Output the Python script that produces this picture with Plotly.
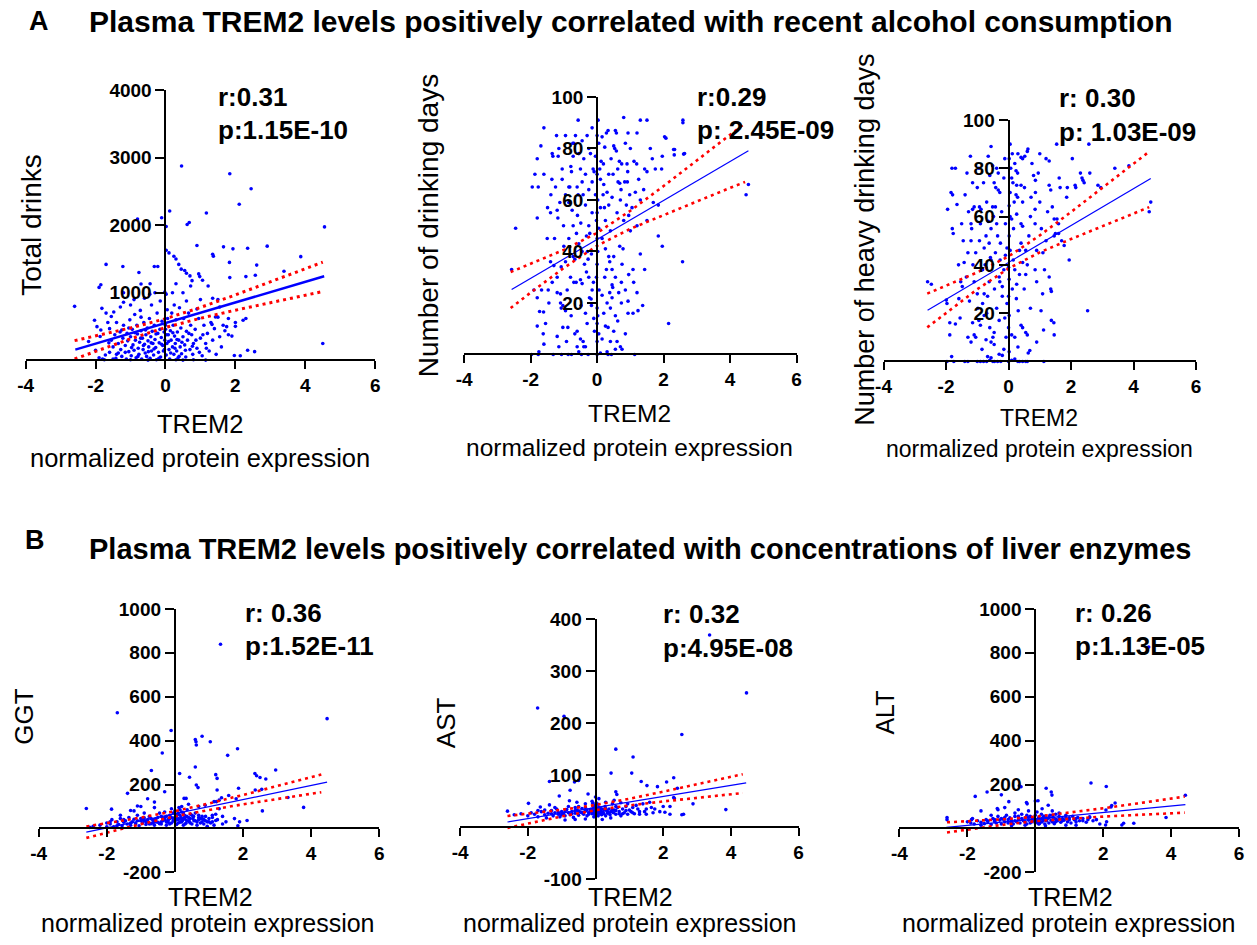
import plotly.graph_objects as go

W, H = 1257, 945
FONT = "Liberation Sans, Arial, Helvetica, sans-serif"

# ---------------- DATA ----------------
title_a = "Plasma TREM2 levels positively correlated with recent alcohol consumption"
title_b = "Plasma TREM2 levels positively correlated with concentrations of liver enzymes"
x_ticks_a = [-4, -2, 0, 2, 4, 6]
x_ticks_b = [-4, -2, 2, 4, 6]

# Panel A1: Total drinks (x = TREM2 NPX, y = total drinks)
drinks_pts = [
    (-2.6, 800), (-1.9, 1080), (-1.85, 1120), (-1.7, 1420), (-1.22, 1390), (-0.76, 1300), (-0.8, 2090),
    (-0.32, 1390), (-0.22, 1390), (-0.44, 1135), (-0.11, 2110), (0.12, 2210), (0.02, 1980), (0.46, 2875),
    (0.62, 2010), (0.68, 2040), (1.17, 2180), (1.84, 2760), (2.45, 2540), (2.11, 2310), (4.55, 1975),
    (4.5, 250), (2.55, 130), (2.14, 70), (1.97, 74),
    (0.02, 1630), (0.1, 1590), (0.24, 1540), (0.3, 1500), (0.38, 1420), (0.45, 1350), (0.55, 1330),
    (0.6, 1290), (0.7, 1250), (0.9, 1700), (0.95, 1280), (0.98, 1240), (1.35, 1570), (1.37, 1540),
    (1.66, 1680), (1.93, 1650), (2.35, 1660), (2.91, 1690), (3.87, 1535), (1.83, 1450), (2.61, 1410),
    (3.39, 1320), (1.84, 1225), (2.3, 1240), (2.57, 1260), (0.76, 1180), (1.22, 1100), (0.3, 1135),
    (0.72, 1100), (1.06, 1185), (1.35, 920), (1.5, 900), (1.55, 790), (1.75, 500), (1.8, 380),
    (2.22, 595), (2.3, 620), (2.35, 150), (2.0, 504), (1.33, 533), (1.43, 642), (-0.02, 1010),
    (0.02, 980), (0.2, 1000), (0.5, 1000),
    (-1.55, 650), (-1.48, 716), (-1.29, 790), (-1.87, 355), (-1.96, 500), (-2.03, 595), (-1.82, 770),
    (-1.2, 860), (-1.2, 1000), (-1.0, 820), (-0.9, 900), (-0.7, 1130), (-0.6, 920), (-0.45, 980),
    (-0.3, 1000), (-1.25, 450), (-1.6, 470),
    (-1.9, 40), (-1.8, 20), (-1.75, 10), (-1.6, 120), (-1.55, 300), (-1.5, 200), (-1.45, 380),
    (-1.4, 90), (-1.35, 250), (-1.3, 420), (-1.28, 160), (-1.25, 60), (-1.22, 330), (-1.2, 520),
    (-1.15, 220), (-1.12, 20), (-1.1, 400), (-1.08, 290), (-1.05, 130), (-1.02, 600), (-1.0, 350),
    (-0.98, 70), (-0.95, 460), (-0.93, 230), (-0.9, 150), (-0.88, 680), (-0.86, 300), (-0.84, 40),
    (-0.82, 520), (-0.8, 390), (-0.78, 180), (-0.76, 90), (-0.74, 270), (-0.72, 740), (-0.7, 440),
    (-0.68, 20), (-0.66, 330), (-0.64, 160), (-0.62, 560), (-0.6, 240), (-0.58, 110), (-0.56, 380),
    (-0.54, 60), (-0.52, 480), (-0.5, 290), (-0.48, 200), (-0.46, 620), (-0.44, 30), (-0.42, 350),
    (-0.4, 140), (-0.38, 430), (-0.36, 250), (-0.34, 80), (-0.32, 520), (-0.3, 310), (-0.28, 190),
    (-0.26, 10), (-0.24, 700), (-0.22, 400), (-0.2, 120), (-0.18, 260), (-0.16, 460), (-0.14, 50),
    (-0.12, 340), (-0.1, 580), (-0.08, 220), (-0.06, 140), (-0.04, 420), (-0.02, 300), (0.0, 520),
    (0.0, 460), (0.02, 80), (0.04, 250), (0.06, 620), (0.08, 380), (0.1, 160), (0.12, 20), (0.14, 440),
    (0.16, 300), (0.18, 700), (0.2, 200), (0.22, 520), (0.24, 90), (0.26, 360), (0.28, 250), (0.3, 600),
    (0.32, 140), (0.34, 420), (0.36, 40), (0.38, 300), (0.4, 780), (0.42, 200), (0.44, 480), (0.46, 100),
    (0.5, 350), (0.52, 620), (0.55, 230), (0.58, 50), (0.6, 430), (0.63, 300), (0.66, 700), (0.7, 160),
    (0.72, 520), (0.75, 380), (0.78, 90), (0.8, 250), (0.85, 460), (0.9, 180), (0.95, 620), (1.0, 330),
    (1.05, 70), (1.1, 520), (1.15, 250), (1.2, 400), (1.25, 140), (1.3, 560), (1.35, 300), (1.4, 470),
    (1.45, 90), (1.5, 640), (1.55, 350), (1.6, 200), (1.65, 520), (1.7, 440), (1.8, 620), (1.9, 360),
    (2.0, 560), (-1.7, 700), (-1.65, 560), (-1.4, 560), (-2.2, 280), (-2.0, 150), (-1.85, 450),
    (-1.5, 20), (-1.0, 10), (-0.5, 5), (0.3, 10), (0.5, 5), (0.8, 10), (1.15, 5), (-0.7, 640),
    (0.05, 750), (-0.4, 820), (0.25, 820), (0.6, 880), (0.9, 760), (1.0, 900), (-0.15, 880),
    (-1.15, 120), (-1.05, 480), (-0.97, 190), (-0.87, 410), (-0.79, 60), (-0.71, 330), (-0.63, 220),
    (-0.57, 450), (-0.49, 130), (-0.41, 260), (-0.33, 170), (-0.27, 390), (-0.19, 30), (-0.11, 240),
    (-0.03, 160), (0.03, 380), (0.09, 280), (0.15, 110), (0.21, 410), (0.27, 180), (0.33, 310),
    (0.39, 60), (0.47, 270), (0.57, 150), (0.67, 400), (0.77, 210), (0.87, 300), (0.97, 120),
    (1.07, 380), (1.17, 180), (-1.35, 110), (-1.42, 30), (-1.62, 260), (-1.72, 80),
]
drinks_fit_x = [-2.58, 4.54]
drinks_fit_y = [160, 1245]
drinks_band_x = [-2.6, -2, -1, 0, 1, 2, 3, 4, 4.5]
drinks_band_hi = [293, 361, 480, 617, 784, 969, 1161, 1355, 1453]
drinks_band_lo = [21, 135, 320, 487, 624, 743, 855, 965, 1019]

# Panel A2: Number of drinking days
days_pts = [
    (-2.45, 49), (-2.57, 33), (-1.8, 76), (-1.69, 81), (-1.87, 70), (-1.77, 65), (-1.95, 65), (-1.8, 53),
    (-1.49, 57), (-1.22, 85), (-1.35, 78), (-1.33, 77), (-1.17, 77), (-1.36, 68), (-1.39, 62), (-1.2, 56),
    (-1.18, 53), (-1.12, 59), (-1.01, 50), (-0.57, 91), (-0.73, 82), (-0.7, 82), (-0.72, 77), (-0.79, 73),
    (-0.77, 71), (-0.85, 65), (-0.82, 65), (-0.6, 65), (-0.45, 67), (-0.57, 62), (-0.42, 62), (-0.59, 54),
    (-0.49, 51), (-0.72, 50), (-0.85, 45), (-0.32, 46), (-0.22, 47), (-1.4, 55),
    (0.03, 91), (0.15, 84.5), (0.28, 86), (0.33, 87), (0.55, 87), (0.58, 86), (0.8, 92), (0.93, 86),
    (1.2, 86), (1.3, 91), (1.5, 91), (2.58, 91), (2.03, 84.5), (2.3, 79.6), (2.32, 77.5), (2.63, 78),
    (1.96, 77), (1.94, 72), (1.66, 76), (1.75, 72), (1.43, 72), (1.5, 71), (1.11, 75), (1.19, 74),
    (0.9, 74), (0.92, 71), (0.67, 75), (0.74, 74), (0.5, 81), (0.53, 80), (0.58, 79), (0.23, 80.5),
    (0.12, 75), (0.19, 74), (-0.12, 72), (-0.09, 71), (0.08, 72), (0.35, 70), (0.63, 67), (0.68, 66.5),
    (0.83, 67), (0.91, 67), (0.98, 62), (0.45, 61), (0.1, 57), (0.35, 58), (1.3, 60), (1.69, 59),
    (1.84, 58), (1.84, 46), (1.96, 42), (1.3, 39), (1.43, 33), (1.08, 33), (2.57, 36), (0.68, 42),
    (0.78, 41), (0.5, 38), (0.75, 35), (0.38, 36), (0.28, 33), (0.23, 30), (0.45, 27), (0.47, 26),
    (0.73, 28), (1.1, 28), (0.38, 24), (0.15, 23), (0.06, 25), (0.73, 20), (0.93, 20.7), (1.37, 19),
    (1.23, 17), (2.15, 12), (0.93, 16), (1.08, 16), (0.25, 11), (0.33, 10.5), (0.05, 8), (0.15, 6),
    (0.5, 9), (0.6, 5), (0.7, 3), (0.75, 2), (0.3, 1),
    (-1.8, 22), (-1.67, 25), (-1.47, 25), (-1.2, 24), (-1.1, 23.5), (-1.1, 20), (-1.03, 19), (-1.08, 18),
    (-0.95, 17), (-1.73, 16.7), (-1.61, 16.5), (-1.8, 11), (-1.2, 7), (-1.03, 10.5), (-0.88, 10.5),
    (-0.6, 9), (-0.67, 8), (-0.5, 6), (-0.42, 5), (-0.6, 3), (-0.4, 3), (-0.35, 3), (-0.7, 28),
    (-0.63, 28), (-0.5, 29), (-0.45, 27.5), (-0.32, 32), (-0.27, 37), (-0.29, 40), (-0.17, 39),
    (-0.11, 28), (-0.23, 22), (-0.18, 21.5), (-0.17, 19), (-1.2, 30), (-1.08, 34), (-0.95, 36),
    (-0.72, 38), (-0.67, 37), (-1.4, 36), (-1.3, 34.5), (-1.9, 25),
    (-1.97, 0), (-1.77, 0), (-1.32, 0), (-1.07, 0), (-0.87, 0), (-0.77, 0), (-0.47, 0), (-0.27, 0),
    (0.33, 0), (0.43, 0), (1.13, 0), (-1.75, 1), (-0.55, 1), (0.0, 0), (0.1, 0.5),
    (4.48, 62), (4.55, 66), (2.33, 79.6), (2.6, 77.8), (2.58, 90), (2.07, 84),
    (0.0, 85), (0.0, 70), (0.02, 60), (0.0, 55), (-0.02, 52), (0.0, 45), (0.02, 40), (0.0, 35),
    (-0.02, 30), (0.0, 18), (0.02, 15), (0.0, 12), (0.0, 5), (-0.05, 62), (0.05, 49),
    (-0.3, 85), (-0.25, 80), (-0.2, 78), (-0.15, 88), (-0.4, 76), (-0.5, 72), (-0.35, 58), (-0.15, 55),
    (-0.25, 50), (0.2, 66), (0.25, 52), (0.4, 48), (0.6, 55), (0.7, 60), (0.8, 52), (1.0, 48),
    (1.2, 50), (1.5, 52), (0.55, 15), (0.4, 18), (-0.1, 14), (-0.3, 12), (-0.8, 30), (-0.9, 25),
    (-1.0, 42), (-1.5, 45), (-1.6, 70), (-0.95, 85), (-1.05, 68), (0.85, 82), (1.0, 80), (1.6, 80),
    (-1.6, 88),
    (-0.65, 85), (-0.55, 78), (-0.45, 83), (-0.35, 70), (-0.25, 64), (-0.15, 67), (-0.05, 77), (0.05, 82),
    (0.1, 68), (0.18, 62), (0.22, 57), (0.3, 63), (0.42, 76), (0.48, 70), (0.62, 72), (0.72, 64),
    (0.88, 58), (0.95, 54), (1.05, 57), (1.15, 63), (1.25, 68), (1.4, 64), (0.15, 45), (0.25, 41),
    (0.35, 38), (0.45, 33), (0.55, 30), (0.65, 24), (0.85, 25), (0.95, 31), (1.2, 24), (0.2, 16),
    (0.3, 20), (0.45, 22), (0.62, 13), (0.85, 8), (-0.08, 9), (-0.15, 25), (-0.25, 30), (-0.38, 35),
    (-0.45, 40), (-0.55, 43), (-0.62, 47), (-0.75, 56), (-0.85, 59), (-0.95, 62), (-1.05, 72),
    (-1.15, 80), (-1.25, 65), (-1.28, 45), (-1.35, 28), (-1.45, 20), (-1.55, 12), (-1.62, 8),
    (-0.35, 16), (-0.48, 19), (-0.78, 15), (-0.92, 5), (-1.15, 3), (-1.6, 4), (0.4, 5), (0.55, 2),
]
days_fit_x = [-2.57, 4.55]
days_fit_y = [25.2, 79.1]
days_band_x = [-2.6, -2, -1, 0, 1, 2, 3, 4, 4.45]
days_band_hi = [32.0, 35.2, 40.6, 47.2, 55.8, 65.4, 75.3, 85.3, 89.8]
days_band_lo = [18.0, 24.0, 33.6, 42.2, 48.8, 54.2, 59.5, 64.7, 67.0]

# Panel A3: Number of heavy drinking days
heavy_pts = [
    (-2.59, 33), (-2.47, 32), (-1.99, 25.4), (-1.97, 24), (-1.95, 63), (-1.81, 80), (-1.7, 80), (-1.84, 70),
    (-1.79, 69), (-1.8, 55), (-1.77, 53), (-1.88, 11), (-1.88, 16), (-1.7, 15.5), (-1.82, 2), (-1.53, 33),
    (-1.48, 31), (-1.59, 26), (-1.5, 57), (-1.39, 69), (-1.33, 78), (-1.42, 41), (-1.35, 35), (-1.22, 85),
    (-1.15, 74), (-1.15, 63), (-1.1, 64), (-1.2, 57), (-1.18, 55), (-1.2, 50), (-1.14, 40), (-1.1, 33),
    (-1.15, 16), (-1.1, 11), (-1.05, 10), (-1.2, 8), (-0.93, 64), (-0.88, 63), (-0.9, 57), (-0.93, 50),
    (-0.78, 47), (-0.83, 38), (-0.78, 28), (-0.83, 24), (-0.78, 19), (-0.95, 17), (-0.9, 15), (-0.8, 74),
    (-0.56, 89), (-0.51, 81), (-0.46, 74), (-0.41, 72), (-0.51, 64), (-0.56, 55), (-0.62, 49), (-0.58, 43),
    (-0.56, 42), (-0.67, 27), (-0.72, 9), (-0.56, 8), (-0.46, 7), (-0.46, 12), (-0.5, 10), (-0.67, 2),
    (-0.56, 1.5), (-0.38, 80), (-0.33, 78), (-0.33, 71), (-0.28, 70), (-0.42, 64), (-0.38, 57), (-0.26, 49),
    (-0.27, 42), (-0.3, 35), (-0.28, 33), (-0.2, 27), (-0.38, 22), (-0.3, 17), (-0.3, 3), (-0.2, 2.5),
    (0.05, 90), (0.02, 84), (0.07, 80), (0.1, 76), (0.14, 74), (0.05, 70), (0.02, 64.5), (0.05, 60),
    (0.1, 59), (0.02, 52), (0.05, 46), (0.0, 39), (0.02, 34), (0.0, 27), (0.02, 19), (0.0, 14), (0.02, 4),
    (0.0, 0), (0.3, 86), (0.4, 84.5), (0.45, 84), (0.52, 85), (0.6, 87), (0.62, 88), (0.75, 82), (0.24, 79),
    (0.29, 78), (0.26, 73), (0.24, 69), (0.29, 68), (0.4, 73), (0.51, 72), (0.45, 66), (0.18, 66),
    (0.26, 61), (0.4, 57), (0.45, 56), (0.4, 49), (0.35, 46), (0.45, 41), (0.6, 40), (0.55, 36),
    (0.26, 32), (0.31, 21), (0.4, 15), (0.45, 14), (0.55, 12), (0.6, 11), (0.2, 10), (0.1, 11), (0.7, 22),
    (0.63, 3.5), (0.68, 4.5), (0.35, 0), (0.55, 0), (0.8, 77), (0.86, 75), (0.86, 70), (0.85, 63),
    (0.85, 57), (0.9, 46), (0.85, 38), (0.9, 33), (1.09, 28), (1.04, 21), (1.12, 13), (1.13, 0), (1.2, 84),
    (1.3, 83), (1.3, 73), (1.35, 71), (1.4, 64), (1.46, 59), (1.46, 52), (1.5, 53), (1.3, 35), (1.35, 30),
    (1.37, 29), (1.37, 17), (1.45, 16), (1.46, 11), (1.62, 76), (1.65, 72), (1.55, 59), (1.6, 57),
    (1.6, 53), (1.78, 48), (1.7, 50), (1.88, 72), (1.86, 68), (1.94, 42), (2.04, 84), (2.15, 72),
    (2.13, 73), (2.3, 78), (2.35, 76), (2.38, 75), (2.42, 74), (2.6, 78), (2.53, 21), (2.86, 73),
    (2.95, 72), (3.4, 80), (3.85, 81), (2.57, 90), (1.54, 90), (4.55, 66), (4.5, 62), (-0.05, 47),
    (-0.1, 44), (0.15, 42), (0.2, 38), (-0.05, 24), (-0.2, 31),
    (-1.97, 0), (-1.75, 0), (-1.3, 0), (-1.0, 0), (-0.9, 0), (-0.8, 0), (-0.7, 0), (-0.5, 0), (-0.45, 0),
    (-0.35, 0), (-0.25, 0), (0.3, 0), (0.45, 0), (0.6, 0), (0.1, 0.5), (-1.4, 0), (-0.6, 0.5), (0.2, 1),
    (-0.65, 85), (-0.6, 77), (-0.7, 66), (-0.65, 58), (-0.72, 52), (-0.75, 40), (-0.62, 33), (-0.7, 20),
    (-0.6, 14), (-0.45, 30), (-0.42, 45), (-0.35, 52), (-0.48, 60), (-0.22, 62), (-0.15, 76), (-0.12, 84),
    (-0.1, 57), (-0.15, 38), (-0.12, 18), (-0.08, 10), (0.12, 86), (0.2, 82), (0.16, 55), (0.12, 30),
    (0.25, 26), (0.35, 36), (0.5, 30), (0.55, 46), (0.65, 52), (0.7, 60), (0.72, 68), (0.95, 78),
    (1.0, 66), (1.05, 55), (1.1, 45), (1.15, 38), (1.2, 50), (1.25, 62), (1.0, 86), (-0.95, 80),
    (-1.0, 72), (-1.05, 45), (-1.0, 28), (-0.98, 22), (-1.25, 25), (-1.3, 45), (-1.28, 62), (-1.45, 50),
    (-1.6, 40), (-1.65, 65), (-1.55, 18), (-1.3, 10), (-0.85, 5), (-0.15, 5), (0.3, 6), (0.9, 8),
]
heavy_fit_x = [-2.59, 4.55]
heavy_fit_y = [21.2, 75.8]
heavy_band_x = [-2.6, -2, -1, 0, 1, 2, 3, 4, 4.5]
heavy_band_hi = [28.1, 31.3, 36.9, 43.5, 52.2, 61.9, 71.9, 81.9, 86.9]
heavy_band_lo = [14.1, 20.1, 29.9, 38.5, 45.2, 50.7, 56.1, 61.3, 63.9]

# Panel B1: GGT
ggt_pts = [
    (1.34, 839), (-1.69, 527), (4.47, 500), (-0.11, 446), (-0.37, 344), (0.6, 405), (0.62, 395), (0.63, 380),
    (0.8, 420), (1.04, 395), (1.55, 333), (1.84, 363), (0.6, 280), (0.43, 233), (0.14, 250), (-0.69, 264),
    (-1.39, 160), (-0.3, 167), (0.63, 198), (0.68, 186), (1.2, 245), (1.24, 228), (1.24, 175), (2.35, 250),
    (2.4, 240), (2.5, 232), (2.67, 225), (2.96, 266), (1.87, 183), (2.36, 175), (2.55, 178), (2.57, 80),
    (3.78, 96), (3.32, 141), (2.12, 36), (-2.6, 91), (-1.86, 88), (-0.6, 120), (-0.8, 135), (-1.1, 102),
    (-1.3, 82), (0.27, 137), (0.33, 137), (0.89, 106), (1.15, 122), (1.22, 122), (1.3, 129), (1.37, 140),
    (1.58, 150), (1.8, 135), (1.5, 30), (1.75, 45), (1.9, 30), (1.1, 30), (1.2, 36), (0.7, 60), (0.8, 45),
    (1.4, 20), (1.85, 12),
    (-2.4, 10), (-2.2, 15), (-2.0, 25), (-1.9, 20), (-1.85, 40), (-1.8, 8), (-1.7, 30), (-1.65, 18),
    (-1.6, 45), (-1.55, 12), (-1.5, 28), (-1.45, 35), (-1.4, 20), (-1.35, 50), (-1.3, 15), (-1.25, 30),
    (-1.2, 42), (-1.15, 22), (-1.1, 60), (-1.05, 12), (-1.0, 35), (-0.95, 25), (-0.9, 48), (-0.85, 18),
    (-0.8, 30), (-0.75, 55), (-0.7, 22), (-0.65, 38), (-0.6, 15), (-0.55, 45), (-0.5, 28), (-0.45, 70),
    (-0.4, 20), (-0.35, 35), (-0.3, 50), (-0.25, 15), (-0.2, 40), (-0.15, 60), (-0.1, 25), (-0.05, 45),
    (0.0, 30), (0.0, 80), (0.02, 55), (0.05, 18), (0.08, 65), (0.1, 40), (0.12, 95), (0.15, 28),
    (0.18, 50), (0.2, 75), (0.22, 35), (0.25, 15), (0.28, 60), (0.3, 42), (0.33, 25), (0.36, 85),
    (0.4, 50), (0.43, 30), (0.46, 65), (0.5, 20), (0.53, 45), (0.56, 35), (0.6, 70), (0.65, 15),
    (0.7, 40), (0.75, 25), (0.8, 55), (0.85, 20), (0.9, 35), (0.95, 10), (1.0, 45), (1.05, 25),
    (1.1, 60), (1.15, 15), (1.25, 40), (1.3, 90), (1.4, 55), (-1.9, 30), (-1.7, 12), (-1.5, 40),
    (-1.3, 25), (-1.1, 35), (-0.95, 40), (-0.85, 30), (-0.75, 20), (-0.65, 25), (-0.55, 30), (-0.45, 22),
    (-0.35, 45), (-0.25, 30), (-0.15, 20), (-0.05, 35), (0.05, 40), (0.1, 25), (0.15, 60), (0.2, 30),
    (0.25, 45), (0.3, 20), (0.35, 35), (0.45, 25), (0.55, 55), (0.65, 30), (0.75, 45), (0.85, 40),
    (0.95, 30), (-0.6, 40), (-0.4, 55), (-0.2, 28), (0.0, 50), (0.1, 70), (0.2, 100), (-0.1, 90),
    (-0.3, 75), (0.4, 110), (0.7, 100), (-0.6, 95), (-0.9, 70), (-1.2, 80), (-1.6, 60), (-2.5, 5),
    (-2.0, 8), (-1.0, 100),
    (-0.1, 50), (0.1, 45), (-0.2, 35), (0.2, 40), (0.3, 55), (-0.3, 40), (0.4, 35), (-0.4, 30),
    (0.5, 60), (-0.5, 50), (0.6, 35), (-0.6, 30), (0.7, 50), (-0.7, 45), (0.8, 30), (-0.8, 40),
    (0.9, 55), (-0.9, 35), (1.0, 30), (-1.0, 45), (0.05, 60), (-0.05, 70), (0.15, 85), (0.25, 70),
    (0.35, 55), (0.45, 45), (-0.15, 45), (-0.25, 55), (1.1, 50), (1.2, 65),
]
ggt_fit_x = [-2.6, 4.47]
ggt_fit_y = [-17, 211]
ggt_band_x = [-2.6, -2, -1, 0, 1, 2, 3, 4, 4.3]
ggt_band_hi = [9.1, 23.8, 49.5, 78.8, 113.9, 152.6, 192.6, 233.1, 245.4]
ggt_band_lo = [-42.9, -19.0, 19.7, 54.8, 84.1, 109.8, 134.2, 158.1, 165.2]

# Panel B2: AST
ast_pts = [
    (3.37, 369), (4.46, 258), (-1.71, 229), (-0.93, 213), (2.55, 178), (0.6, 150), (1.11, 135), (0.46, 104),
    (1.07, 104), (-1.36, 88), (-0.62, 87), (-0.5, 90), (1.35, 88), (1.52, 80), (1.83, 78), (2.1, 87),
    (2.31, 95), (2.42, 75), (2.31, 57), (2.33, 55), (2.88, 45), (3.85, 34), (2.6, 25), (2.55, 24),
    (2.2, 25), (2.05, 29), (-0.75, 71), (-0.22, 64), (0.6, 68), (0.63, 63), (-1.07, 60), (-1.98, 46),
    (-2.6, 31), (-1.63, 39), (-1.36, 43), (-0.77, 51),
    (-2.0, 22), (-1.9, 28), (-1.8, 25), (-1.7, 20), (-1.6, 30), (-1.5, 24), (-1.45, 18), (-1.4, 27),
    (-1.3, 32), (-1.25, 22), (-1.2, 28), (-1.15, 35), (-1.1, 25), (-1.05, 20), (-1.0, 30), (-0.95, 26),
    (-0.9, 22), (-0.85, 34), (-0.8, 28), (-0.75, 24), (-0.7, 30), (-0.65, 19), (-0.6, 27), (-0.55, 33),
    (-0.5, 23), (-0.45, 29), (-0.4, 36), (-0.35, 25), (-0.3, 31), (-0.25, 22), (-0.2, 28), (-0.15, 34),
    (-0.1, 26), (-0.05, 30), (0.0, 24), (0.0, 35), (0.0, 42), (0.02, 28), (0.05, 32), (0.08, 22),
    (0.1, 38), (0.12, 27), (0.15, 31), (0.18, 24), (0.2, 35), (0.22, 29), (0.25, 26), (0.28, 40),
    (0.3, 22), (0.33, 32), (0.36, 27), (0.4, 35), (0.43, 24), (0.46, 30), (0.5, 45), (0.53, 28),
    (0.56, 33), (0.6, 25), (0.65, 38), (0.7, 30), (0.75, 22), (0.8, 35), (0.85, 28), (0.9, 40),
    (0.95, 25), (1.0, 33), (1.05, 30), (1.1, 38), (1.15, 26), (1.2, 42), (1.25, 35), (1.3, 30),
    (1.4, 45), (1.5, 25), (1.6, 48), (-0.3, 45), (-0.1, 50), (0.1, 55), (0.0, 58), (-0.5, 40),
    (0.3, 48), (-0.8, 40), (-1.2, 38), (-1.7, 32), (-0.6, 15), (-0.3, 16), (0.2, 15), (-0.9, 14),
    (0.45, 18), (-0.05, 20), (0.05, 26), (-0.15, 30), (0.15, 36), (-0.02, 33), (0.03, 29), (-0.08, 27),
    (0.07, 34), (-0.04, 38), (0.01, 31), (-0.25, 33), (0.25, 33), (-0.4, 28), (0.4, 28), (-0.6, 32),
    (0.6, 32), (-1.0, 24), (0.8, 26), (-2.2, 26), (-2.4, 24), (1.75, 35), (1.9, 30), (2.0, 40),
    (1.65, 38), (0.95, 45), (0.55, 52), (-0.55, 48),
    (-0.1, 35), (0.1, 30), (-0.05, 40), (0.05, 37), (0.12, 33), (-0.12, 31), (0.2, 27), (-0.2, 25),
    (0.08, 44), (-0.08, 46), (0.3, 36), (-0.3, 38), (0.35, 30), (-0.35, 29), (0.5, 33), (-0.5, 31),
    (0.7, 26), (-0.7, 26), (0.9, 32), (-0.9, 30), (1.1, 28), (-1.1, 29), (1.3, 25), (-1.3, 26),
    (0.6, 40), (-0.6, 38), (0.0, 20), (0.02, 47), (-0.02, 25), (1.5, 35), (-1.5, 33), (0.75, 47),
    (1.45, 30), (1.7, 28), (2.2, 40),
]
ast_fit_x = [-2.6, 4.45]
ast_fit_y = [10.2, 85.2]
ast_band_x = [-2.6, -2, -1, 0, 1, 2, 3, 4, 4.35]
ast_band_hi = [21.7, 26.0, 33.6, 42.8, 54.8, 68.4, 82.6, 97.0, 102.0]
ast_band_lo = [-1.3, 7.2, 20.8, 32.8, 42.0, 49.6, 56.6, 63.4, 65.8]

# Panel B3: ALT
alt_pts = [
    (3.34, 826), (1.64, 207), (2.09, 191), (-0.47, 194), (-0.42, 190), (0.32, 183), (0.47, 166), (0.49, 152),
    (-1.42, 166), (-1.77, 146), (-1.0, 153), (-1.12, 91), (-1.1, 85), (-0.78, 122), (-0.26, 118),
    (-0.24, 112), (0.0, 125), (0.08, 126), (0.38, 106), (2.35, 116), (2.25, 104), (2.23, 98), (2.08, 84),
    (1.6, 53), (2.55, 16), (2.6, 24), (2.9, 24), (3.85, 50), (4.42, 151), (2.07, 16), (-2.6, 50),
    (-2.6, 40), (-1.88, 40), (-1.6, 80),
    (-2.0, 30), (-1.9, 25), (-1.85, 45), (-1.8, 20), (-1.7, 35), (-1.6, 28), (-1.5, 22), (-1.45, 40),
    (-1.4, 30), (-1.3, 18), (-1.25, 45), (-1.2, 32), (-1.15, 25), (-1.1, 55), (-1.05, 38), (-1.0, 20),
    (-0.95, 42), (-0.9, 30), (-0.85, 60), (-0.8, 25), (-0.75, 48), (-0.7, 35), (-0.65, 20), (-0.6, 55),
    (-0.55, 30), (-0.5, 40), (-0.45, 25), (-0.4, 65), (-0.35, 35), (-0.3, 48), (-0.25, 20), (-0.2, 38),
    (-0.15, 55), (-0.1, 30), (-0.05, 45), (0.0, 25), (0.0, 60), (0.02, 40), (0.05, 75), (0.08, 32),
    (0.1, 50), (0.12, 22), (0.15, 42), (0.18, 65), (0.2, 30), (0.22, 48), (0.25, 38), (0.28, 20),
    (0.3, 55), (0.33, 35), (0.36, 45), (0.4, 25), (0.43, 60), (0.46, 38), (0.5, 30), (0.53, 50),
    (0.56, 22), (0.6, 42), (0.65, 35), (0.7, 55), (0.75, 28), (0.8, 45), (0.85, 38), (0.9, 60),
    (0.95, 30), (1.0, 48), (1.05, 25), (1.1, 55), (1.15, 40), (1.2, 30), (1.25, 50), (1.3, 35),
    (1.4, 45), (1.5, 28), (1.55, 40), (-0.5, 85), (-0.2, 80), (0.2, 90), (0.5, 80), (-0.9, 95),
    (0.7, 70), (-1.3, 60), (1.7, 35), (1.9, 20), (2.1, 30), (-0.3, 15), (0.3, 12), (-0.7, 12),
    (0.9, 15), (-1.6, 15), (1.2, 15), (0.1, 20), (-0.1, 50), (0.6, 65), (-0.6, 70),
    (-0.1, 40), (0.1, 35), (-0.2, 50), (0.2, 45), (0.3, 40), (-0.3, 30), (0.4, 50), (-0.4, 45),
    (0.6, 30), (-0.6, 35), (0.8, 35), (-0.8, 40), (1.0, 40), (-1.0, 45), (1.2, 45), (-1.2, 40),
    (0.5, 60), (-0.5, 55), (0.05, 30), (-0.05, 35), (0.15, 28), (-0.15, 25), (0.7, 45), (-0.7, 28),
    (1.4, 35), (-1.4, 35), (0.25, 55), (-0.25, 60), (0.9, 50), (-0.9, 50), (1.6, 50), (1.8, 40),
]
alt_fit_x = [-2.62, 4.42]
alt_fit_y = [4.6, 108.7]
alt_band_x = [-2.6, -2, -1, 0, 1, 2, 3, 4, 4.4]
alt_band_hi = [28.0, 32.7, 41.4, 53.4, 71.0, 91.9, 113.8, 136.1, 145.1]
alt_band_lo = [-18.2, -5.1, 15.8, 33.4, 45.4, 54.1, 61.8, 69.1, 71.9]

# ---------------- LAYOUT (target pixel positions) ----------------
panels = [
    dict(pts=drinks_pts, fx=drinks_fit_x, fy=drinks_fit_y, bx=drinks_band_x, bh=drinks_band_hi, bl=drinks_band_lo,
         xpx=(27, 377), ypx=(360, 90), yr=(0, 4000), yt=[1000, 2000, 3000, 4000], xt=x_ticks_a,
         fitw=2.5, dotw=3, ytitle=("Total drinks", 33, 225, 28),
         trem=(202, 423, 25.5), norm=(202, 457, 25.5), r=("r:0.31", 218, 97), p=("p:1.15E-10", 218, 130)),
    dict(pts=days_pts, fx=days_fit_x, fy=days_fit_y, bx=days_band_x, bh=days_band_hi, bl=days_band_lo,
         xpx=(466, 799), ypx=(354, 97), yr=(0, 100), yt=[20, 40, 60, 80, 100], xt=x_ticks_a,
         fitw=1.2, dotw=2.6, ytitle=("Number of drinking days", 430, 226, 28),
         trem=(632, 413, 24.5), norm=(632, 447, 24.5), r=("r:0.29", 697, 97), p=("p: 2.45E-09", 697, 130)),
    dict(pts=heavy_pts, fx=heavy_fit_x, fy=heavy_fit_y, bx=heavy_band_x, bh=heavy_band_hi, bl=heavy_band_lo,
         xpx=(886, 1199), ypx=(361, 120), yr=(0, 100), yt=[20, 40, 60, 80, 100], xt=x_ticks_a,
         fitw=1.2, dotw=2.6, ytitle=("Number of heavy drinking days", 868, 240, 27),
         trem=(1042, 417, 23), norm=(1042, 448, 23), r=("r: 0.30", 1060, 98), p=("p: 1.03E-09", 1060, 132)),
    dict(pts=ggt_pts, fx=ggt_fit_x, fy=ggt_fit_y, bx=ggt_band_x, bh=ggt_band_hi, bl=ggt_band_lo,
         xpx=(40, 381), ypx=(871, 608), yr=(-200, 1000), yt=[-200, 200, 400, 600, 800, 1000], xt=x_ticks_b,
         fitw=1.2, dotw=2.6, ytitle=("GGT", 25, 716, 26),
         trem=(212, 896, 25), norm=(210, 922, 25), r=("r: 0.36", 245, 612), p=("p:1.52E-11", 245, 645)),
    dict(pts=ast_pts, fx=ast_fit_x, fy=ast_fit_y, bx=ast_band_x, bh=ast_band_hi, bl=ast_band_lo,
         xpx=(462, 801), ypx=(878, 618), yr=(-100, 400), yt=[-100, 100, 200, 300, 400], xt=x_ticks_b,
         fitw=1.2, dotw=2.6, ytitle=("AST", 448, 722, 26),
         trem=(633, 896, 25), norm=(632, 922, 25), r=("r: 0.32", 663, 613), p=("p:4.95E-08", 663, 647)),
    dict(pts=alt_pts, fx=alt_fit_x, fy=alt_fit_y, bx=alt_band_x, bh=alt_band_hi, bl=alt_band_lo,
         xpx=(902, 1242), ypx=(871, 608), yr=(-200, 1000), yt=[-200, 200, 400, 600, 800, 1000], xt=x_ticks_b,
         fitw=1.2, dotw=2.6, ytitle=("ALT", 888, 712, 25),
         trem=(1073, 896, 25), norm=(1072, 922, 25), r=("r: 0.26", 1076, 612), p=("p:1.13E-05", 1076, 645)),
]

# the captured page shows the figure slightly inset and scaled; compensate so targets land where intended
OX, KX = 9.3, 0.991
OY, KY = 10.2, 0.976


def px2x(px):
    return ((px - OX) / KX) / W


def py2y(py):
    return 1 - ((py - OY) / KY) / H


fig = go.Figure()
layout = {}
annotations = []
BLUE = "#0000FF"
RED = "#FF0000"

for i, p in enumerate(panels, start=1):
    xs = [a for a, b in p["pts"]]
    ys = [b for a, b in p["pts"]]
    xref = "x" if i == 1 else f"x{i}"
    yref = "y" if i == 1 else f"y{i}"
    fig.add_trace(go.Scatter(x=xs, y=ys, mode="markers", xaxis=xref, yaxis=yref,
                             marker=dict(size=3.6, color=BLUE), cliponaxis=False, hoverinfo="skip"))
    for band in (p["bh"], p["bl"]):
        fig.add_trace(go.Scatter(x=p["bx"], y=band, mode="lines", xaxis=xref, yaxis=yref,
                                 line=dict(color=RED, width=p["dotw"], dash="3px,4px"),
                                 cliponaxis=False, hoverinfo="skip"))
    fig.add_trace(go.Scatter(x=p["fx"], y=p["fy"], mode="lines", xaxis=xref, yaxis=yref,
                             line=dict(color=BLUE, width=p["fitw"]), cliponaxis=False, hoverinfo="skip"))

    x0, x1 = p["xpx"]
    yb, yt_ = p["ypx"]
    r0, r1 = p["yr"]
    zero_py = yb - (0 - r0) / (r1 - r0) * (yb - yt_)
    zero_px = x0 + (0 + 4) / 10 * (x1 - x0)
    tickfont = dict(family=FONT, size=19, color="black", weight="bold")
    layout["xaxis" if i == 1 else f"xaxis{i}"] = dict(
        domain=[px2x(x0), px2x(x1)], range=[-4, 6], anchor="free", position=py2y(zero_py),
        showline=True, linewidth=2, linecolor="black", ticks="outside", ticklen=8, tickwidth=2,
        tickcolor="black", tickvals=p["xt"], ticktext=[str(v) for v in p["xt"]], tickfont=tickfont,
        showgrid=False, zeroline=False, fixedrange=True)
    layout["yaxis" if i == 1 else f"yaxis{i}"] = dict(
        domain=[py2y(yb), py2y(yt_)], range=[r0, r1], anchor="free", position=px2x(zero_px),
        showline=True, linewidth=2, linecolor="black", ticks="outside", ticklen=9, tickwidth=2,
        tickcolor="black", tickvals=p["yt"], ticktext=[str(v) for v in p["yt"]], tickfont=tickfont,
        showgrid=False, zeroline=False, fixedrange=True)

    t, tx, ty, ts = p["ytitle"]
    annotations.append(dict(text=t, x=px2x(tx), y=py2y(ty), xref="paper", yref="paper", showarrow=False,
                            textangle=-90, font=dict(family=FONT, size=ts, color="black"),
                            xanchor="center", yanchor="middle"))
    for key, label in (("trem", "TREM2"), ("norm", "normalized protein expression")):
        ax, ay, asz = p[key]
        annotations.append(dict(text=label, x=px2x(ax), y=py2y(ay), xref="paper", yref="paper",
                                showarrow=False, font=dict(family=FONT, size=asz, color="black"),
                                xanchor="center", yanchor="middle"))
    for key in ("r", "p"):
        t, ax, ay = p[key]
        annotations.append(dict(text=f"<b>{t}</b>", x=px2x(ax), y=py2y(ay), xref="paper", yref="paper",
                                showarrow=False, font=dict(family=FONT, size=26, color="black"),
                                xanchor="left", yanchor="middle"))

for text, x, y, anchor, size in (("A", 40, 21, "center", 27), (title_a, 88, 22, "left", 30),
                                 ("B", 36, 539, "center", 27), (title_b, 88, 548, "left", 29)):
    annotations.append(dict(text=f"<b>{text}</b>", x=px2x(x), y=py2y(y), xref="paper", yref="paper",
                            showarrow=False, font=dict(family=FONT, size=size, color="black"),
                            xanchor=anchor, yanchor="middle"))

fig.update_layout(width=W, height=H, margin=dict(l=0, r=0, t=0, b=0), showlegend=False,
                  paper_bgcolor="white", plot_bgcolor="white", annotations=annotations, **layout)

fig.write_html("out.html", config={"displayModeBar": False},
               post_script="document.body.style.margin='0';document.body.style.padding='0';"
                           "document.documentElement.style.overflow='hidden';")
